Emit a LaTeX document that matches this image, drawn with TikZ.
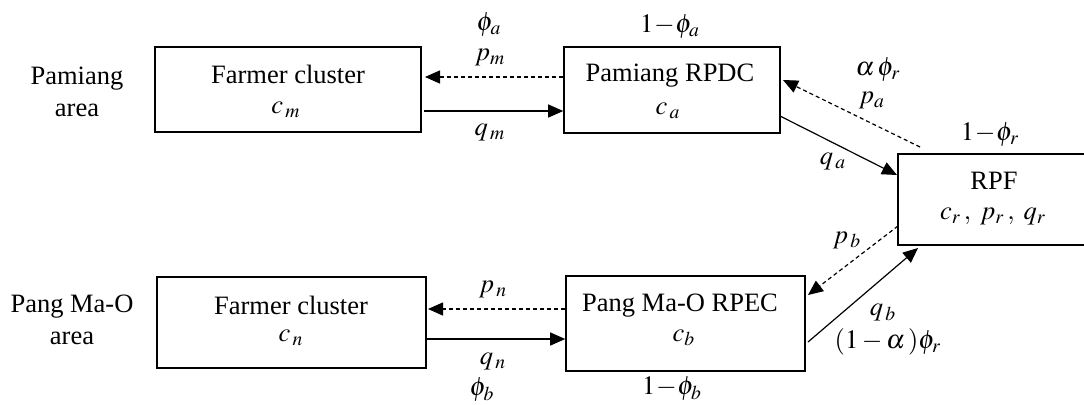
\documentclass[tikz,border=0pt]{standalone}
\usepackage{mathptmx}
\usepackage{fontspec}
\setmainfont{Liberation Serif}
\usetikzlibrary{arrows.meta}
\begin{document}
\begin{tikzpicture}[x=0.5pt,y=-0.5pt,
  box/.style={draw, line width=0.8pt, inner sep=0pt},
  txt/.style={font=\fontsize{13.25}{16}\selectfont, inner sep=0pt, align=center},
  flow/.style={line width=0.6pt, -{Triangle[length=7.5pt,width=6.5pt]}},
  dflow/.style={flow, dash pattern=on 2pt off 1.5pt}]
\fill[white] (0,0) rectangle (1084,404);
\useasboundingbox (0,0) rectangle (1084,404);
% boxes
\node[box, minimum width=133pt, minimum height=42.5pt] (fa) at (288,89.5) {};
\node[box, minimum width=108pt, minimum height=43pt] (ra) at (672,90) {};
\node[box, minimum width=96pt, minimum height=45.5pt] (rpf) at (994,199.5) {};
\node[box, minimum width=134.5pt, minimum height=45.5pt] (fb) at (291.5,322.5) {};
\node[box, minimum width=119.5pt, minimum height=47.5pt] (rb) at (685.5,323.5) {};
% box texts
\node[txt] (areaa) at (77,92) {Pamiang\\area};
\node[txt] (areab) at (72,320) {Pang Ma-O\\area};
\node[txt] (fat) at (288,74) {Farmer cluster};
\node[txt] (fam) at (286,110) {$c_{\,m}$};
\node[txt] (rat) at (670,76) {Pamiang RPDC};
\node[txt] (ram) at (668,111) {$c_{\,a}$};
\node[txt] (rpft) at (994,181) {RPF};
\node[txt] (rpfm) at (993,217) {$c_{r}\,,\; p_{r}\,,\; q_{r}$};
\node[txt] (fbt) at (291,305) {Farmer cluster};
\node[txt] (fbm) at (291,338) {$c_{\,n}$};
\node[txt] (rbt) at (680,306) {Pang Ma-O RPEC};
\node[txt] (rbm) at (684,338) {$c_{b}$};
% coordinates
\coordinate (a1) at (425,77);
\coordinate (a2) at (424,111);
\coordinate (a3) at (780,116);
\coordinate (a4) at (897,175);
\coordinate (a5) at (920,147);
\coordinate (a6) at (783,80);
\coordinate (b1) at (428,309);
\coordinate (b2) at (427,339);
\coordinate (b3) at (898,226);
\coordinate (b4) at (808,295);
\coordinate (b5) at (808,342);
\coordinate (b6) at (918,248);
% connectors
\draw[dflow] (ra.west |- a1) -- (a1);
\draw[flow] (a2) -- (ra.west |- a2);
\draw[flow] (a3) -- (a4);
\draw[dflow] (a5) -- (a6);
\draw[dflow] (rb.west |- b1) -- (b1);
\draw[flow] (b2) -- (rb.west |- b2);
\draw[dflow] (b3) -- (b4);
\draw[flow] (b5) -- (b6);
% labels
\node[txt] (l1) at (489,25) {$\phi_{a}$};
\node[txt] (l2) at (490,57) {$p_{m}$};
\node[txt] (l3) at (490,133) {$q_{\,m}$};
\node[txt] (l4) at (670,27) {$1\!-\!\phi_{a}$};
\node[txt] (l5) at (878,70) {$\alpha\,\phi_{r}$};
\node[txt] (l6) at (872,100) {$p_{a}$};
\node[txt] (l7) at (833,162) {$q_{\,a}$};
\node[txt] (l8) at (990,135) {$1\!-\!\phi_{r}$};
\node[txt] (l9) at (493,289) {$p_{\,n}$};
\node[txt] (l10) at (493,362) {$q_{\,n}$};
\node[txt] (l11) at (482,390) {$\phi_{b}$};
\node[txt] (l12) at (672,389) {$1\!-\!\phi_{b}$};
\node[txt] (l13) at (847,240) {$p_{\,b}$};
\node[txt] (l14) at (883,313) {$q_{\,b}$};
\node[txt] (l15) at (888,342) {$(1-\alpha\,)\phi_{r}$};
\end{tikzpicture}
\end{document}
